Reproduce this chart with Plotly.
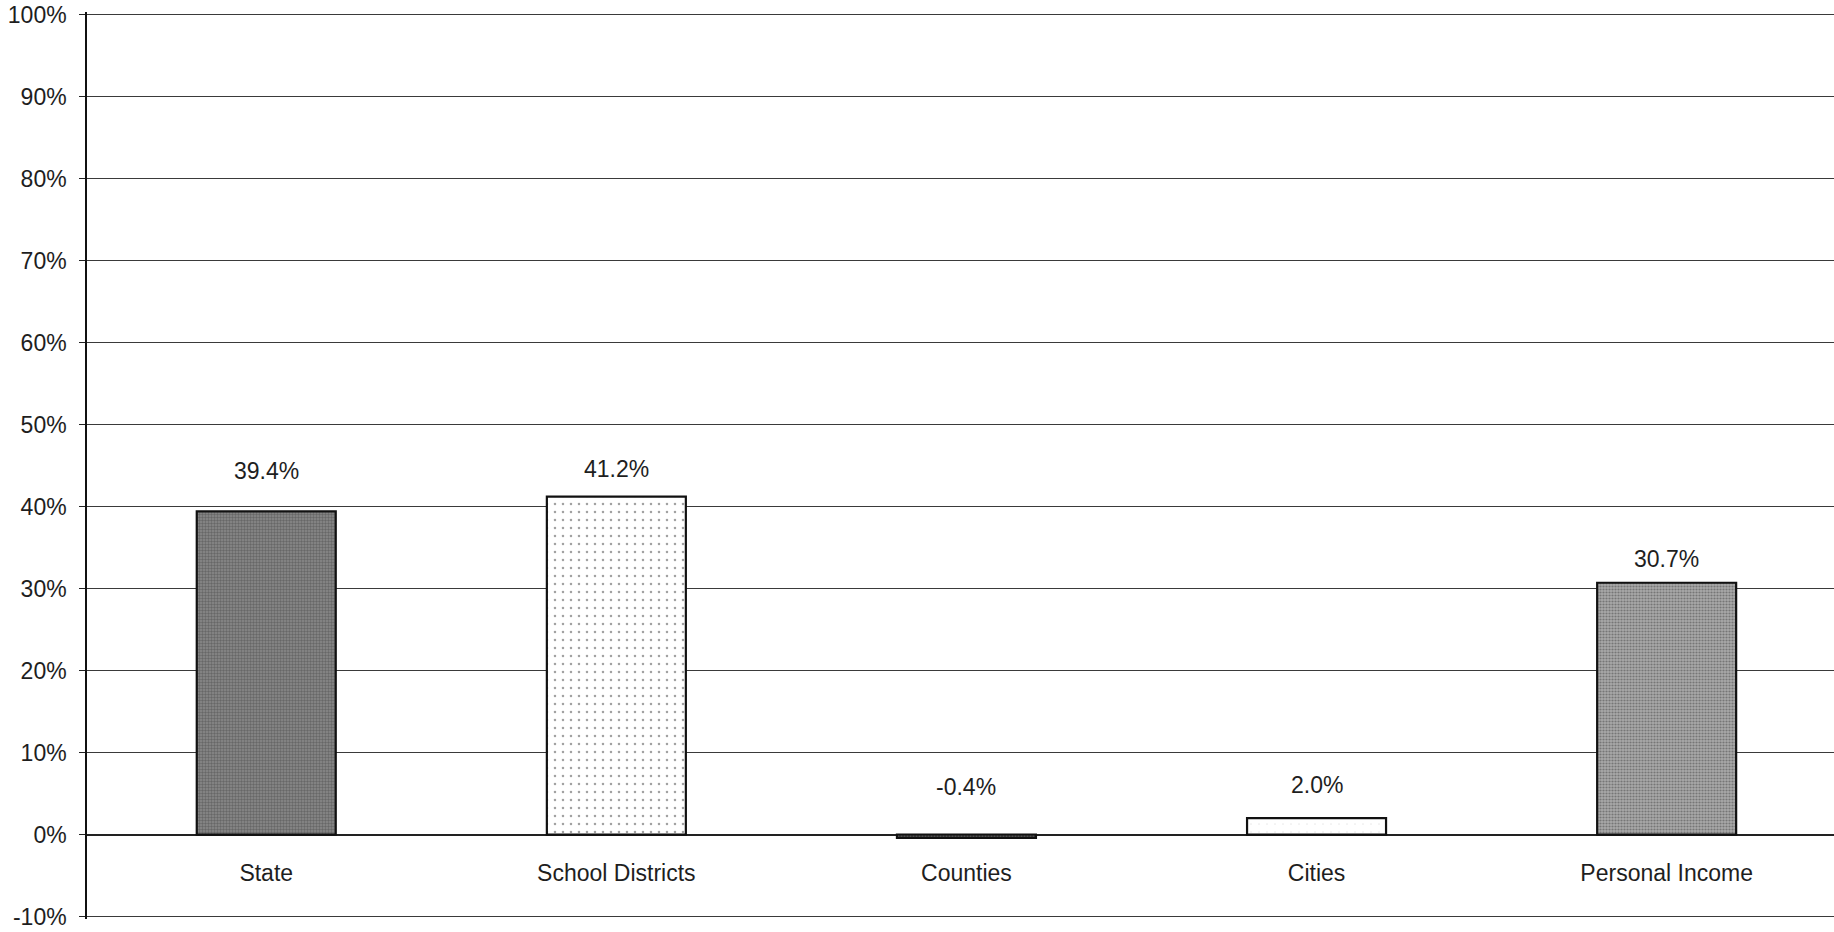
import plotly.graph_objects as go

# Percent change by sector
categories = ["State", "School Districts", "Counties", "Cities", "Personal Income"]
values = [39.4, 41.2, -0.4, 2.0, 30.7]
value_labels = ["39.4%", "41.2%", "-0.4%", "2.0%", "30.7%"]

y_ticks = list(range(-10, 101, 10))
y_tick_labels = [f"{t}%" for t in y_ticks]

# Styling per bar (fill textures and label offsets)
bar_base = ["#8a8a8a", "#ffffff", "#3a3a3a", "#ffffff", "#a9a9a9"]
bar_dots = ["#262626", "#8a8a8a", "#1a1a1a", "#ffffff", "#3c3c3c"]
bar_solidity = [0.5, 0.08, 0.4, 0.01, 0.42]
bar_dot_size = [3, 8, 3, 8, 3]
label_lift = [40, 28, 48, 33, 24]

FONT = "Liberation Sans, Arial, sans-serif"
TEXT = "#1e1e1e"
FS = 23
PAD = 0.3  # small headroom so the end gridlines are drawn

fig = go.Figure()
fig.add_trace(go.Bar(
    x=categories,
    y=values,
    width=0.397,
    marker=dict(
        color=bar_base,
        line=dict(color="#111111", width=2.2),
        pattern=dict(
            shape=["."] * len(categories),
            fgcolor=bar_dots,
            size=bar_dot_size,
            solidity=bar_solidity,
            fillmode="overlay",
        ),
    ),
    hoverinfo="x+y",
))

for cat, v, lab, lift in zip(categories, values, value_labels, label_lift):
    fig.add_annotation(
        x=cat, y=max(v, 0), text=lab, showarrow=False,
        yanchor="middle", yshift=lift,
        font=dict(family=FONT, size=FS, color=TEXT),
    )

y_lo, y_hi = y_ticks[0] - PAD, y_ticks[-1] + PAD

fig.update_layout(
    width=1834, height=932,
    margin=dict(l=87, r=0, t=12, b=13),
    paper_bgcolor="white", plot_bgcolor="white",
    showlegend=False,
    font=dict(family=FONT, size=FS, color=TEXT),
    xaxis=dict(
        type="category",
        range=[-0.512, 4.478],
        anchor="free",
        position=(0 - y_lo) / (y_hi - y_lo),
        automargin=False,
        showline=False,
        showgrid=False,
        zeroline=False,
        ticks="",
        ticklabelstandoff=22,
        tickfont=dict(family=FONT, size=FS, color=TEXT),
    ),
    yaxis=dict(
        range=[y_lo, y_hi],
        tickvals=y_ticks,
        ticktext=y_tick_labels,
        automargin=False,
        showgrid=True,
        gridcolor="#3a3a3a",
        gridwidth=1,
        zeroline=True,
        zerolinecolor="#222222",
        zerolinewidth=1.5,
        showline=True,
        linecolor="#111111",
        linewidth=1.5,
        ticks="outside",
        ticklen=6,
        tickcolor="#222222",
        ticklabelstandoff=8,
        ticklabeloverflow="allow",
        tickfont=dict(family=FONT, size=FS, color=TEXT),
    ),
)

fig.write_html("out.html")
